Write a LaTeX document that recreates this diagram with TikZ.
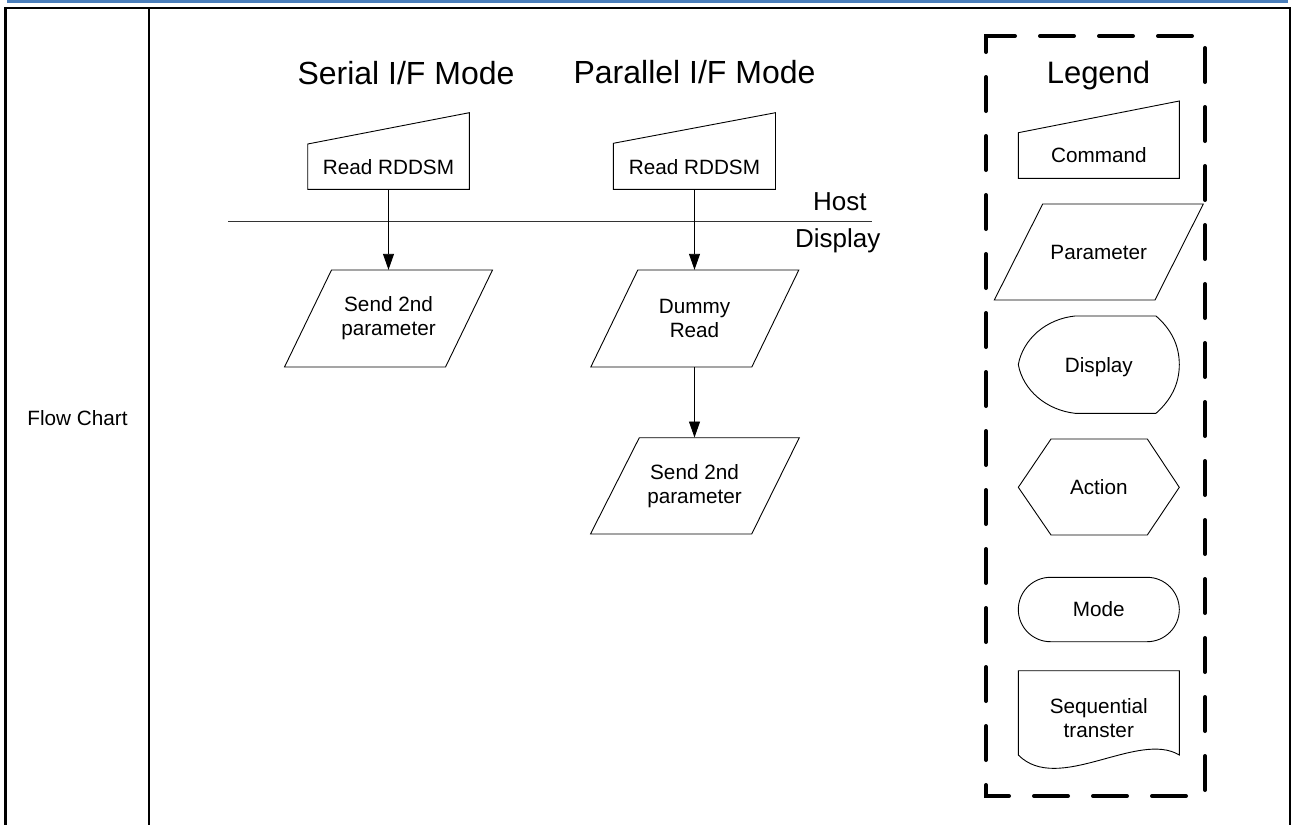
\documentclass[tikz,border=0pt]{standalone}
\usepackage{fontspec}
\setmainfont{Liberation Sans}
\usetikzlibrary{arrows.meta}
\definecolor{topblue}{RGB}{74,126,187}
\begin{document}
\begin{tikzpicture}[x=1pt,y=-1pt,
  shp/.style={draw=black,line width=0.9pt},
  lbl/.style={inner sep=0pt,align=center,font=\fontsize{20.7}{24}\selectfont},
  ttl/.style={inner sep=0pt,font=\fontsize{32}{36}\selectfont},
  side/.style={inner sep=0pt,anchor=base,font=\fontsize{26}{30}\selectfont},
  arr/.style={line width=0.9pt,-{Triangle[length=16pt,width=11pt]}},
  legendbox/.style={line width=4pt,line cap=round,dash pattern=on 34pt off 25pt},
  tbl/.style={draw=black}
]
\useasboundingbox (0,0) rectangle (1293,825);
% top band and table frame
\fill[topblue] (7,0) rectangle (1288,2.7);
\draw[tbl,line width=2pt] (4,8.3) -- (1290.5,8.3);
\draw[tbl,line width=3.3pt] (5.3,7.3) -- (5.3,825);
\draw[tbl,line width=2.3pt] (148.8,8) -- (148.8,825);
\draw[tbl,line width=2pt] (1289.5,7.3) -- (1289.5,825);
\node[lbl] (fc) at (77.5,418) {Flow Chart};

% titles
\node[ttl] (tser) at (406,73) {Serial I/F Mode};
\node[ttl] (tpar) at (694.5,72) {Parallel I/F Mode};

% host / display separator
\coordinate (hl) at (228,221.7);
\coordinate (hr) at (872,221.7);
\draw[line width=0.9pt,draw=black!80] (hl) -- (hr);
\node[side] (host) at (839.8,210.7) {Host};
\node[side] (disp) at (837.8,247.7) {Display};

% serial column
\draw[shp] (307.7,189.3) -- (307.7,144) -- (469.3,112.7) -- (469.3,189.3) -- cycle;
\node[lbl,minimum height=44pt] (sc) at (388.5,167.3) {Read RDDSM};
\draw[shp] (331.5,270) -- (492.5,270) -- (445.5,367) -- (284.5,367) -- cycle;
\node[lbl,minimum height=97pt] (sp) at (388.5,318.5) {Send 2nd\\parameter};
\draw[arr] (sc.south) -- (sp.north);

% parallel column
\draw[shp] (613.3,189.3) -- (613.3,143.3) -- (775.5,112.7) -- (775.5,189.3) -- cycle;
\node[lbl,minimum height=44pt] (pc) at (694.5,167.3) {Read RDDSM};
\draw[shp] (637.8,270) -- (798.8,270) -- (751.8,367) -- (590.8,367) -- cycle;
\node[lbl,minimum height=97pt] (pd) at (694.5,318.5) {Dummy\\Read};
\draw[shp] (639.3,437.7) -- (799.3,437.7) -- (751.7,534) -- (590.5,534) -- cycle;
\node[lbl,minimum height=96.3pt] (ps) at (694.5,485.85) {Send 2nd\\parameter};
\draw[arr] (pc.south) -- (pd.north);
\draw[arr] (pd.south) -- (ps.north);

% legend
\draw[legendbox] (1004,36) -- (986,36) -- (986,796) -- (1205,796) -- (1205,36) -- cycle;
\node[ttl,font=\fontsize{31}{36}\selectfont] (lg) at (1098.5,75) {Legend};
\draw[shp] (1018.3,178.3) -- (1018.3,132.7) -- (1179.3,101) -- (1179.3,178.3) -- cycle;
\node[lbl] (lcmd) at (1098.8,155.5) {Command};
\draw[shp] (1042.7,204) -- (1203.3,204) -- (1155,300) -- (994.3,300) -- cycle;
\node[lbl,text depth=0pt] (lpar) at (1098.8,252) {Parameter};
\draw[shp] (1075,316) -- (1156,316)
  .. controls (1171,329) and (1179.3,345) .. (1179.3,364.6)
  .. controls (1179.3,384) and (1171,400) .. (1156,413.3)
  -- (1075,413.3)
  .. controls (1046,410) and (1023,390) .. (1018.3,364.6)
  .. controls (1023,339) and (1046,319) .. cycle;
\node[lbl,text depth=0pt] (ldisp) at (1098.8,364.6) {Display};
\draw[shp] (1051,439) -- (1147.3,439) -- (1179.3,487.3) -- (1147.3,535) -- (1051,535) -- (1018.3,487.3) -- cycle;
\node[lbl] (lact) at (1098.8,487.3) {Action};
\draw[shp,rounded corners=32.2pt] (1018.3,577.3) rectangle (1179.3,641.7);
\node[lbl] (lmode) at (1098.8,609.5) {Mode};
\draw[shp] (1018.3,755) -- (1018.3,670.7) -- (1179.3,670.7) -- (1179.3,755)
  .. controls (1138,730) and (1058,795) .. (1018.3,755) -- cycle;
\node[lbl] (lseq) at (1098.8,718) {Sequential\\transter};
\end{tikzpicture}
\end{document}
